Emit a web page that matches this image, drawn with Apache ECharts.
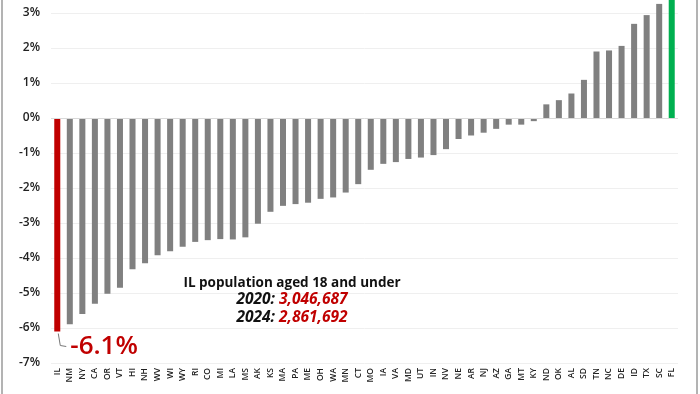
<!DOCTYPE html>
<html><head><meta charset="utf-8">
<script src="https://cdn.jsdelivr.net/npm/echarts@6/dist/echarts.min.js"></script>
<style>html,body{margin:0;padding:0;background:#fff}#c{width:700px;height:394px}</style>
</head><body><div id="c"></div>
<script>
const states = ['IL','NM','NY','CA','OR','VT','HI','NH','WV','WI','WY','RI','CO','MI','LA','MS','AK','KS','MA','PA','ME','OH','WA','MN','CT','MO','IA','VA','MD','UT','IN','NV','NE','AR','NJ','AZ','GA','MT','KY','ND','OK','AL','SD','TN','NC','DE','ID','TX','SC','FL'];
const changePct = [-6.1,-5.89,-5.6,-5.31,-5.02,-4.85,-4.32,-4.15,-3.92,-3.81,-3.68,-3.54,-3.49,-3.46,-3.47,-3.41,-3.02,-2.68,-2.51,-2.46,-2.42,-2.31,-2.27,-2.13,-1.89,-1.48,-1.31,-1.26,-1.17,-1.13,-1.06,-0.89,-0.6,-0.5,-0.42,-0.31,-0.19,-0.19,-0.09,0.39,0.51,0.7,1.09,1.9,1.93,2.06,2.69,2.94,3.26,3.8];
const yTicks = [-7,-6,-5,-4,-3,-2,-1,0,1,2,3];
const highlightState = 'IL';
const highlightValue = '-6.1%';
const noteTitle = 'IL population aged 18 and under';
const noteLines = [['2020: ','3,046,687'],['2024: ','2,861,692']];

const RED = '#c00000', GREEN = '#00b050', GRAY = '#808080';
const font = '"Open Sans", sans-serif';
const chart = echarts.init(document.getElementById('c'), null, {renderer:'canvas'});
const data = states.map((s,i)=>({
  value: changePct[i],
  itemStyle: {color: s==='IL' ? RED : (s==='FL' ? GREEN : GRAY)}
}));
chart.setOption({
  animation:false,
  grid:{left:51,right:22,top:13,bottom:31},
  xAxis:{type:'category',data:states,
    axisLine:{show:false},axisTick:{show:false},
    axisLabel:{rotate:90,fontSize:8.5,color:'#222',margin:5,interval:0,fontFamily:font,fontWeight:600}},
  yAxis:{type:'value',min:yTicks[0],max:yTicks[yTicks.length-1],interval:1,
    axisLine:{show:false},axisTick:{show:false},
    splitLine:{lineStyle:{color:'#efefef',width:1}},
    axisLabel:{formatter:v=>v+'%',fontSize:12,color:'#222',margin:11,fontFamily:font,fontWeight:600}},
  series:[{type:'bar',data:data,barWidth:'48%',clip:false,
    markLine:{silent:true,symbol:'none',label:{show:false},
      lineStyle:{color:'#d9d9d9',type:'solid',width:1},data:[{yAxis:0}]}}]
});
const p = chart.convertToPixel({xAxisIndex:0,yAxisIndex:0},[highlightState, changePct[0]]);
chart.setOption({graphic:[
  {type:'line',shape:{x1:2,y1:0,x2:2,y2:394},style:{stroke:'#9a9a9a',lineWidth:1.5}},
  {type:'line',shape:{x1:697,y1:0,x2:697,y2:394},style:{stroke:'#9a9a9a',lineWidth:1.5}},
  {type:'polyline',shape:{points:[[p[0]+1,p[1]+2],[p[0]+3,p[1]+14],[p[0]+9,p[1]+15]]},style:{stroke:'#777',lineWidth:1,fill:null}},
  {type:'text',x:p[0]+13,y:p[1]+15,style:{text:highlightValue,fill:RED,font:'600 26px '+font,textVerticalAlign:'middle'}},
  {type:'text',x:292,y:283,style:{text:noteTitle,fill:'#111',font:'bold 13.5px '+font,textAlign:'center',textVerticalAlign:'middle'}},
  {type:'text',x:292,y:300,style:{textAlign:'center',textVerticalAlign:'middle',
    rich:{a:{fill:'#111',font:'italic bold 15.5px '+font},b:{fill:RED,font:'italic bold 15.5px '+font}},
    text:'{a|'+noteLines[0][0]+'}{b|'+noteLines[0][1]+'}'}},
  {type:'text',x:292,y:318,style:{textAlign:'center',textVerticalAlign:'middle',
    rich:{a:{fill:'#111',font:'italic bold 15.5px '+font},b:{fill:RED,font:'italic bold 15.5px '+font}},
    text:'{a|'+noteLines[1][0]+'}{b|'+noteLines[1][1]+'}'}}
]});
</script></body></html>
